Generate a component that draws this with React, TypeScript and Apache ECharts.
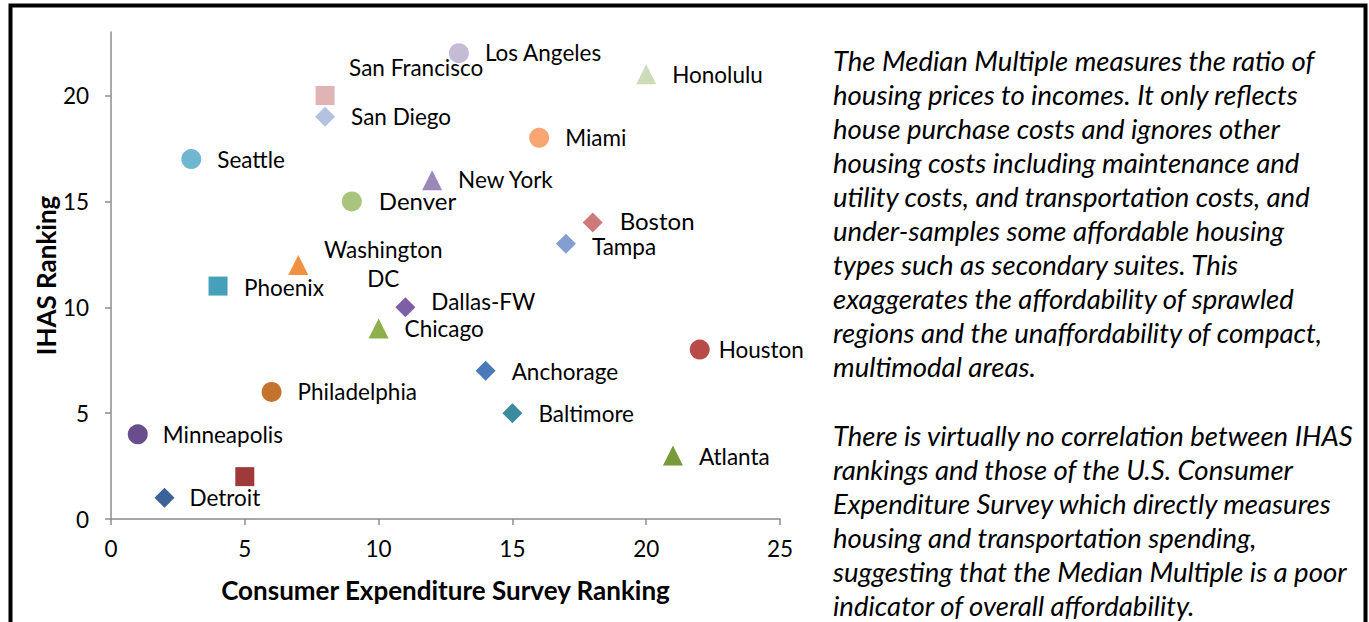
import React, { useEffect, useRef } from "react";
import * as echarts from "echarts";

// ---- Data ----
const cities = [
  "Los Angeles", "San Francisco", "San Diego", "Honolulu", "Seattle", "Miami",
  "New York", "Denver", "Boston", "Tampa", "Washington\nDC", "Phoenix",
  "Dallas-FW", "Chicago", "Houston", "Anchorage", "Philadelphia", "Baltimore",
  "Minneapolis", "Atlanta", "", "Detroit",
];
// Consumer Expenditure Survey Ranking (x)
const cesRanks = [13, 8, 8, 20, 3, 16, 12, 9, 18, 17, 7, 4, 11, 10, 22, 14, 6, 15, 1, 21, 5, 2];
// IHAS Ranking (y)
const ihasRanks = [22, 20, 19, 21, 17, 18, 16, 15, 14, 13, 12, 11, 10, 9, 8, 7, 6, 5, 4, 3, 2, 1];

const xTicks = [0, 5, 10, 15, 20, 25];
const yTicks = [0, 5, 10, 15, 20];

const noteLines = [
  "The Median Multiple measures the ratio of",
  "housing prices to incomes. It only reflects",
  "house purchase costs and ignores other",
  "housing costs including maintenance and",
  "utility costs, and transportation costs, and",
  "under-samples some affordable housing",
  "types such as secondary suites. This",
  "exaggerates the affordability of sprawled",
  "regions and the unaffordability of compact,",
  "multimodal areas.",
  "",
  "There is virtually no correlation between IHAS",
  "rankings and those of the U.S. Consumer",
  "Expenditure Survey which directly measures",
  "housing and transportation spending,",
  "suggesting that the Median Multiple is a poor",
  "indicator of overall affordability.",
];

// ---- Styles (kept apart from data) ----
const markerSymbols = [
  "circle", "rect", "diamond", "triangle", "circle", "circle",
  "triangle", "circle", "diamond", "diamond", "triangle", "rect",
  "diamond", "triangle", "circle", "diamond", "circle", "diamond",
  "circle", "triangle", "rect", "diamond",
];
const markerColors = [
  "#c4bbd6", "#e0b4b4", "#b3c2df", "#cddbb8", "#71b6d1", "#f9a672",
  "#9b87b9", "#a8c57e", "#cf7a7a", "#839fd2", "#f1913f", "#45a1ba",
  "#7c5fa7", "#8db04d", "#b84a47", "#4a7ab8", "#c5722f", "#3a8b9e",
  "#6a4d8c", "#789a3a", "#a03a3a", "#3b6399",
];
const labelOffsets: [number, number][] = [
  [26, -1], [24, -28], [26, 0], [26, 0], [26, 0], [26, 0],
  [26, -1], [27, -1], [27, -2], [26, 3], [85, -1], [26, 1],
  [26, -6], [26, 0], [19, 0], [26, 1], [26, 0], [26, 0],
  [25, 0], [26, 1], [0, 0], [25, 0],
];
const labelAligns = cities.map((_, i) => (i === 10 ? "center" : "left"));
const labelSizes = cities.map((c) => (c === "Denver" || c === "Boston" ? 24 : 22.5));

const FONT = "Lato, 'Open Sans', sans-serif";

export default function App() {
  const ref = useRef<HTMLDivElement>(null);

  useEffect(() => {
    if (!ref.current) return;
    const chart = echarts.init(ref.current, undefined, { renderer: "svg" });

    const data = cities.map((name, i) => ({
      name,
      value: [cesRanks[i], ihasRanks[i]],
      symbol: markerSymbols[i],
      symbolSize: markerSymbols[i] === "rect" ? 19 : 20,
      itemStyle: { color: markerColors[i], opacity: 1 },
      label: {
        show: name !== "",
        formatter: name,
        position: "inside",
        align: labelAligns[i],
        verticalAlign: "middle",
        offset: labelOffsets[i],
        fontSize: labelSizes[i],
        lineHeight: i === 10 ? 29 : labelSizes[i] - 3,
        color: "#000",
        fontFamily: FONT,
      },
    }));

    chart.setOption({
      animation: false,
      backgroundColor: "#fff",
      grid: { left: 111, right: 589, top: 32, bottom: 103, containLabel: false },
      xAxis: {
        type: "value",
        min: 0,
        max: 25,
        interval: 5,
        name: "Consumer Expenditure Survey Ranking",
        nameLocation: "middle",
        nameGap: 58,
        nameTextStyle: { fontFamily: FONT, fontWeight: "bold", fontSize: 26, color: "#000" },
        axisLine: { show: true, lineStyle: { color: "#8c8c8c", width: 1.5 } },
        axisTick: { show: true, inside: false, length: 6, lineStyle: { color: "#8c8c8c", width: 1.5 } },
        axisLabel: {
          margin: 18,
          fontFamily: FONT,
          fontSize: 22.5,
          color: "#000",
          customValues: xTicks,
        },
        splitLine: { show: false },
      },
      yAxis: {
        type: "value",
        min: 0,
        max: 23,
        name: "IHAS Ranking",
        nameLocation: "middle",
        nameGap: 52,
        nameRotate: 90,
        nameTextStyle: { fontFamily: FONT, fontWeight: "bold", fontSize: 26, color: "#000" },
        axisLine: { show: true, lineStyle: { color: "#8c8c8c", width: 1.5 } },
        axisTick: {
          show: true,
          inside: false,
          length: 6,
          lineStyle: { color: "#8c8c8c", width: 1.5 },
          customValues: yTicks,
        },
        axisLabel: {
          margin: 22,
          fontFamily: FONT,
          fontSize: 22.5,
          color: "#000",
          customValues: yTicks,
        },
        splitLine: { show: false },
      },
      series: [
        {
          type: "scatter",
          data,
          emphasis: { disabled: true },
        },
      ],
      graphic: [
        {
          type: "rect",
          shape: { x: 10.5, y: 5.5, width: 1355, height: 700 },
          style: { fill: "none", stroke: "#000", lineWidth: 4 },
          silent: true,
        },
        {
          type: "text",
          x: 833,
          y: 43,
          style: {
            text: noteLines.join("\n"),
            fontFamily: FONT,
            fontStyle: "italic",
            fontSize: 27.5,
            lineHeight: 34.1,
            fill: "#000",
            align: "left",
            verticalAlign: "top",
          },
          silent: true,
        },
      ],
    });

    return () => chart.dispose();
  }, []);

  return (
    <div
      ref={ref}
      style={{ position: "fixed", left: 0, top: 0, width: 1369, height: 622 }}
    />
  );
}
